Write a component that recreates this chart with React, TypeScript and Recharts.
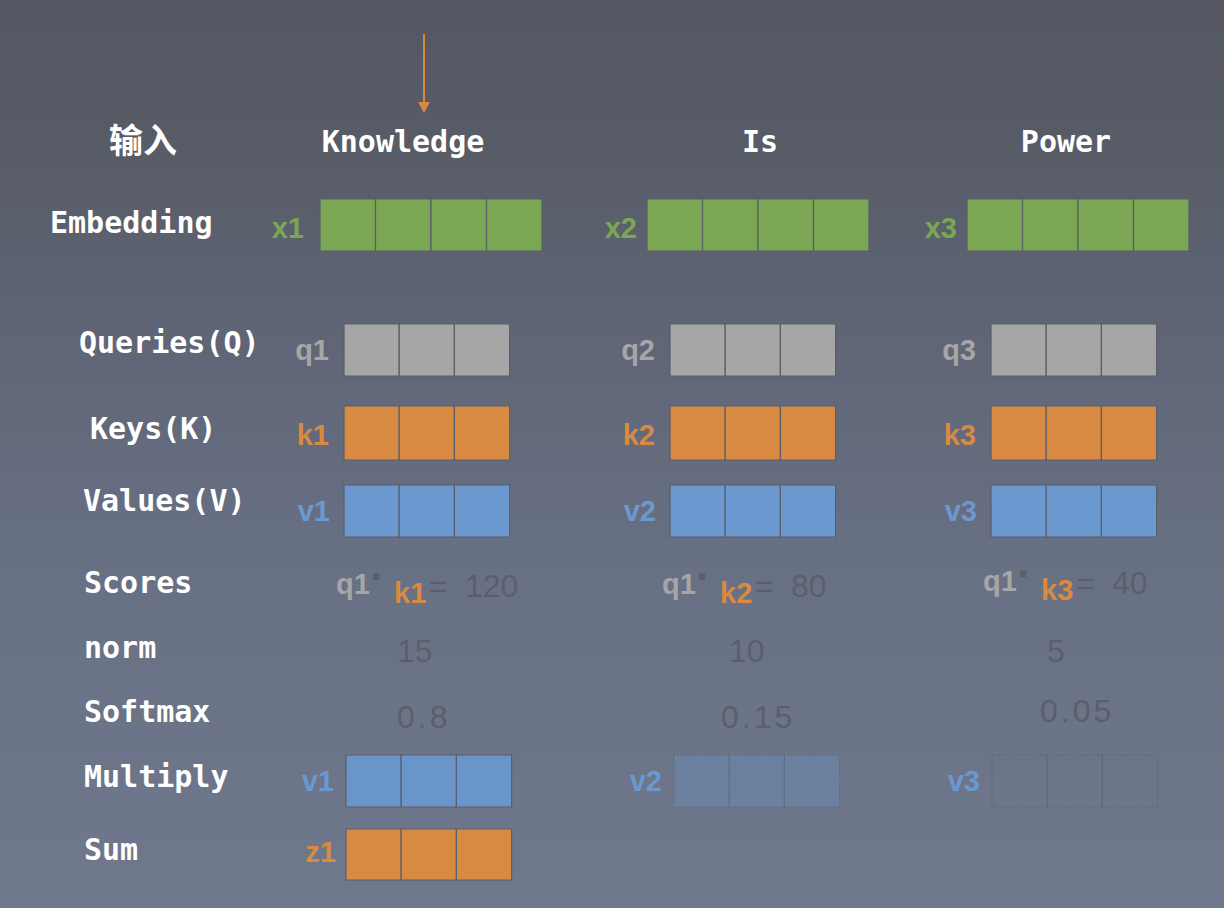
import { ComposedChart, ReferenceArea, ReferenceLine, Scatter, XAxis, YAxis } from "recharts";

// words and row names
const inputTitle = "输入";
const tokens = ["Knowledge", "Is", "Power"];
const rowTitles = ["Embedding", "Queries(Q)", "Keys(K)", "Values(V)", "Scores", "norm", "Softmax", "Multiply", "Sum"];

// vector names per token
const embeddingNames = ["x1", "x2", "x3"];
const queryNames = ["q1", "q2", "q3"];
const keyNames = ["k1", "k2", "k3"];
const valueNames = ["v1", "v2", "v3"];
const sumNames = ["z1"];

// numbers for the first query
const scoreValues = [120, 80, 40];
const normValues = [15, 10, 5];
const softmaxValues = [0.8, 0.15, 0.05];
const weightedAlpha = [0.92, 0.3, 0.03];

const embeddingDim = 4;
const vectorDim = 3;

// layout (pixel units of the hidden axes)
const W = 1224;
const H = 908;
const TOKEN_X = [403, 760, 1066];
const EMB_X = [320, 647, 967];
const EMB_CELL = 55.5;
const VEC_X = [344, 670, 991];
const MUL_X = [346, 674, 992];
const VEC_CELL = 55.2;
const ROWS = {
  emb: [199, 251],
  q: [324, 376],
  k: [406, 460],
  v: [485, 537],
  mul: [755, 807],
  sum: [829, 880],
};
const TITLE_X = [50, 79, 90, 83, 84, 84, 84, 84, 84];
const TITLE_BASE = [233, 353, 439, 511, 593, 658, 722, 787, 860];
const NORM_X = [397, 729, 1047];
const SOFT_X = [397, 721, 1040];
const SOFT_BASE = [728, 728, 722];

const COLORS = {
  green: "#7ba654",
  gray: "#a6a6a6",
  orange: "#d88a43",
  blue: "#6a98cf",
  dark: "#5b5f6d",
  divider: "#5a5e6b",
  white: "#ffffff",
};

type Pt = { x: number; y: number; text: string; kind: string; anchor?: string };

const MONO = "'DejaVu Sans Mono', monospace";
const SANS = "'Liberation Sans', Arial, sans-serif";
const CJK = "'Noto Sans CJK SC', sans-serif";

const STYLES: Record<string, { fill: string; size: number; font: string; weight: number; spacing?: number }> = {
  header: { fill: COLORS.white, size: 30, font: MONO, weight: 700 },
  cjk: { fill: COLORS.white, size: 34, font: CJK, weight: 700 },
  title: { fill: COLORS.white, size: 30, font: MONO, weight: 700 },
  green: { fill: COLORS.green, size: 29, font: SANS, weight: 700 },
  gray: { fill: COLORS.gray, size: 29, font: SANS, weight: 700 },
  orange: { fill: COLORS.orange, size: 29, font: SANS, weight: 700 },
  blue: { fill: COLORS.blue, size: 29, font: SANS, weight: 700 },
  dark: { fill: COLORS.dark, size: 32, font: SANS, weight: 400 },
  dot: { fill: COLORS.dark, size: 44, font: SANS, weight: 700 },
  soft: { fill: COLORS.dark, size: 32, font: SANS, weight: 400, spacing: 3 },
};

const textPoints: Pt[] = [];
textPoints.push({ x: 143, y: 153, text: inputTitle, kind: "cjk", anchor: "middle" });
tokens.forEach((t, i) => textPoints.push({ x: TOKEN_X[i], y: 152, text: t, kind: "header", anchor: "middle" }));
rowTitles.forEach((t, i) => textPoints.push({ x: TITLE_X[i], y: TITLE_BASE[i], text: t, kind: "title", anchor: "start" }));
embeddingNames.forEach((t, i) =>
  textPoints.push({ x: EMB_X[i] - (i === 0 ? 16 : 10), y: 238, text: t, kind: "green", anchor: "end" })
);
queryNames.forEach((t, i) => textPoints.push({ x: VEC_X[i] - 15, y: 360, text: t, kind: "gray", anchor: "end" }));
keyNames.forEach((t, i) => textPoints.push({ x: VEC_X[i] - 15, y: 445, text: t, kind: "orange", anchor: "end" }));
valueNames.forEach((t, i) => textPoints.push({ x: VEC_X[i] - 14, y: 521, text: t, kind: "blue", anchor: "end" }));
valueNames.forEach((t, i) => textPoints.push({ x: MUL_X[i] - 12, y: 791, text: t, kind: "blue", anchor: "end" }));
sumNames.forEach((t, i) => textPoints.push({ x: MUL_X[i] - 10, y: 862, text: t, kind: "orange", anchor: "end" }));
scoreValues.forEach((s, i) => {
  const base = VEC_X[i] - 8;
  const lift = i === 2 ? 3 : 0;
  textPoints.push({ x: base, y: 594 - lift, text: queryNames[0], kind: "gray", anchor: "start" });
  textPoints.push({ x: base + 34, y: 592 - lift, text: "·", kind: "dot", anchor: "start" });
  textPoints.push({ x: base + 58, y: 603 - lift, text: keyNames[i], kind: "orange", anchor: "start" });
  textPoints.push({ x: base + 93, y: 597 - lift, text: "=", kind: "dark", anchor: "start" });
  textPoints.push({ x: base + 129, y: 597 - lift, text: String(s), kind: "dark", anchor: "start" });
});
normValues.forEach((n, i) => textPoints.push({ x: NORM_X[i], y: 662, text: String(n), kind: "dark", anchor: "start" }));
softmaxValues.forEach((v, i) =>
  textPoints.push({ x: SOFT_X[i], y: SOFT_BASE[i], text: String(v), kind: "soft", anchor: "start" })
);

const TextMark = (props: any) => {
  const { cx, cy, payload } = props;
  if (cx == null || cy == null || !payload) return <g />;
  const st = STYLES[payload.kind];
  return (
    <text
      x={cx}
      y={cy}
      textAnchor={payload.anchor}
      fill={st.fill}
      fontSize={st.size}
      fontFamily={st.font}
      fontWeight={st.weight}
      letterSpacing={st.spacing ?? 0}
    >
      {payload.text}
    </text>
  );
};

const ArrowHead = (props: any) => {
  const { cx, cy } = props;
  if (cx == null || cy == null) return <g />;
  return <path d={`M${cx - 6},${cy - 11} L${cx + 6},${cy - 11} L${cx},${cy} Z`} fill={COLORS.orange} />;
};

type Cell = { x1: number; x2: number; y1: number; y2: number; fill: string; alpha: number; dashed: boolean };

const cells: Cell[] = [];
const addVector = (x0: number, size: number, n: number, row: number[], fill: string, alpha = 1, dashed = false) => {
  for (let c = 0; c < n; c++) {
    cells.push({ x1: x0 + c * size, x2: x0 + (c + 1) * size, y1: row[0], y2: row[1], fill, alpha, dashed });
  }
};
tokens.forEach((_, i) => {
  addVector(EMB_X[i], EMB_CELL, embeddingDim, ROWS.emb, COLORS.green);
  addVector(VEC_X[i], VEC_CELL, vectorDim, ROWS.q, COLORS.gray);
  addVector(VEC_X[i], VEC_CELL, vectorDim, ROWS.k, COLORS.orange);
  addVector(VEC_X[i], VEC_CELL, vectorDim, ROWS.v, COLORS.blue);
  addVector(MUL_X[i], VEC_CELL, vectorDim, ROWS.mul, COLORS.blue, weightedAlpha[i], i > 0);
});
sumNames.forEach((_, i) => addVector(MUL_X[i], VEC_CELL, vectorDim, ROWS.sum, COLORS.orange));

export default function App() {
  return (
    <div
      style={{
        position: "absolute",
        left: 0,
        top: 0,
        width: W,
        height: H,
        background: "linear-gradient(180deg, #555862 0%, #575b65 14%, #5e6474 34%, #687084 62%, #6f788c 100%)",
      }}
    >
      <ComposedChart width={W} height={H} margin={{ top: 0, right: 0, bottom: 0, left: 0 }}>
        <XAxis type="number" dataKey="x" domain={[0, W]} hide allowDataOverflow />
        <YAxis type="number" dataKey="y" domain={[0, H]} reversed hide width={0} allowDataOverflow />
        {cells.map((c, i) => (
          <ReferenceArea
            key={i}
            x1={c.x1}
            x2={c.x2}
            y1={c.y1}
            y2={c.y2}
            fill={c.fill}
            fillOpacity={c.alpha}
            stroke={COLORS.divider}
            strokeWidth={1.2}
            strokeOpacity={c.dashed ? 0.9 : 1}
            strokeDasharray={c.dashed ? "1 2" : undefined}
          />
        ))}
        <ReferenceLine
          segment={[
            { x: 424, y: 34 },
            { x: 424, y: 103 },
          ]}
          stroke={COLORS.orange}
          strokeWidth={2}
        />
        <Scatter data={[{ x: 424, y: 113 }]} shape={ArrowHead} isAnimationActive={false} />
        <Scatter data={textPoints} shape={TextMark} isAnimationActive={false} />
      </ComposedChart>
    </div>
  );
}
